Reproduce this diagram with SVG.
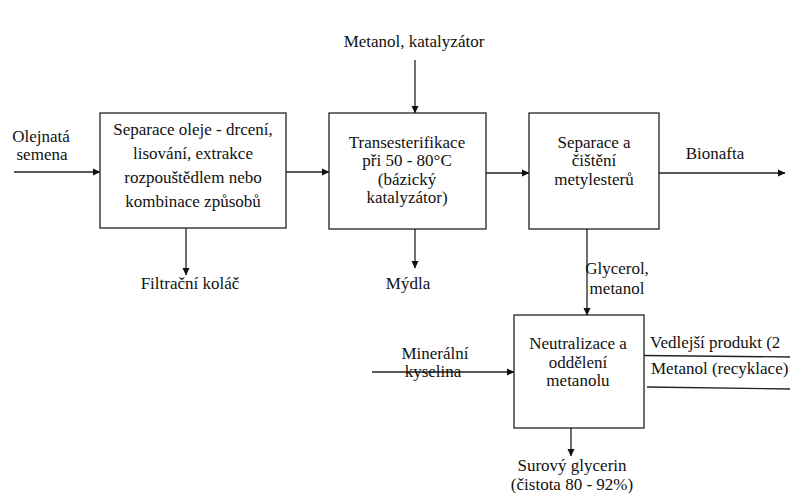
<svg xmlns="http://www.w3.org/2000/svg" width="790" height="493" viewBox="0 0 790 493">
<style>
.box{fill:#fff;stroke:#222;stroke-width:1.3}
.ln{stroke:#222;stroke-width:1.3;fill:none}
text{font-family:'Liberation Serif','Times New Roman','DejaVu Serif',serif;font-size:17px;fill:#111}
.c{text-anchor:middle}
</style>
<defs>
<marker id="ar" markerWidth="8" markerHeight="8" refX="7" refY="4" orient="auto" markerUnits="userSpaceOnUse">
<path d="M0,0.5 L7.5,4 L0,7.5 Z" fill="#111"/>
</marker>
</defs>
<rect width="790" height="493" fill="#fff"/>
<g id="connectors">
<line class="ln" x1="14" y1="172" x2="100" y2="172" marker-end="url(#ar)"/>
<line class="ln" x1="286" y1="172" x2="329" y2="172" marker-end="url(#ar)"/>
<line class="ln" x1="486" y1="173" x2="529" y2="173" marker-end="url(#ar)"/>
<line class="ln" x1="659" y1="173" x2="785" y2="173" marker-end="url(#ar)"/>
<line class="ln" x1="415" y1="60" x2="415" y2="113" marker-end="url(#ar)"/>
<line class="ln" x1="186" y1="228" x2="186" y2="275" marker-end="url(#ar)"/>
<line class="ln" x1="415" y1="229" x2="415" y2="268" marker-end="url(#ar)"/>
<line class="ln" x1="587" y1="229" x2="587" y2="315" marker-end="url(#ar)"/>
<line class="ln" x1="372" y1="372" x2="514" y2="372" marker-end="url(#ar)"/>
<line class="ln" x1="571" y1="428" x2="571" y2="456" marker-end="url(#ar)"/>
<line class="ln" x1="644" y1="355.5" x2="790" y2="357"/>
<line class="ln" x1="647" y1="387" x2="790" y2="389"/>
</g>
<g id="n-olejnata"><text class="c" x="41" y="142">Olejnatá</text><text class="c" x="42" y="160">semena</text></g>
<g id="n-separace-oleje">
<rect class="box" x="100" y="113" width="186" height="115"/>
<text class="c" x="193" y="135">Separace oleje - drcení,</text>
<text class="c" x="193" y="159">lisování, extrakce</text>
<text class="c" x="193" y="183">rozpouštědlem nebo</text>
<text class="c" x="193" y="207">kombinace způsobů</text>
</g>
<g id="n-metanol-kat"><text class="c" x="414" y="47">Metanol, katalyzátor</text></g>
<g id="n-transesterifikace">
<rect class="box" x="329" y="113" width="157" height="116"/>
<text class="c" x="407" y="148">Transesterifikace</text>
<text class="c" x="407" y="166">při 50 - 80°C</text>
<text class="c" x="407" y="185">(bázický</text>
<text class="c" x="407" y="203">katalyzátor)</text>
</g>
<g id="n-separace-metylesteru">
<rect class="box" x="529" y="113" width="130" height="116"/>
<text class="c" x="594" y="148">Separace a</text>
<text class="c" x="594" y="166">čištění</text>
<text class="c" x="594" y="185">metylesterů</text>
</g>
<g id="n-bionafta"><text class="c" x="715" y="159">Bionafta</text></g>
<g id="n-filtracni"><text class="c" x="190" y="289">Filtrační koláč</text></g>
<g id="n-mydla"><text class="c" x="408" y="289">Mýdla</text></g>
<g id="n-glycerol"><text class="c" x="617" y="274">Glycerol,</text><text class="c" x="617" y="294">metanol</text></g>
<g id="n-neutralizace">
<rect class="box" x="514" y="315" width="130" height="113"/>
<text class="c" x="578" y="349">Neutralizace a</text>
<text class="c" x="578" y="368">oddělení</text>
<text class="c" x="578" y="386">metanolu</text>
</g>
<g id="n-mineralni"><text class="c" x="435" y="359">Minerální</text><text class="c" x="433" y="377">kyselina</text></g>
<g id="n-vedlejsi"><text x="650" y="348">Vedlejší produkt (2</text></g>
<g id="n-metanol-rec"><text x="651" y="374">Metanol (recyklace)</text></g>
<g id="n-surovy"><text class="c" x="572" y="471">Surový glycerin</text><text class="c" x="572" y="490">(čistota 80 - 92%)</text></g>
</svg>
